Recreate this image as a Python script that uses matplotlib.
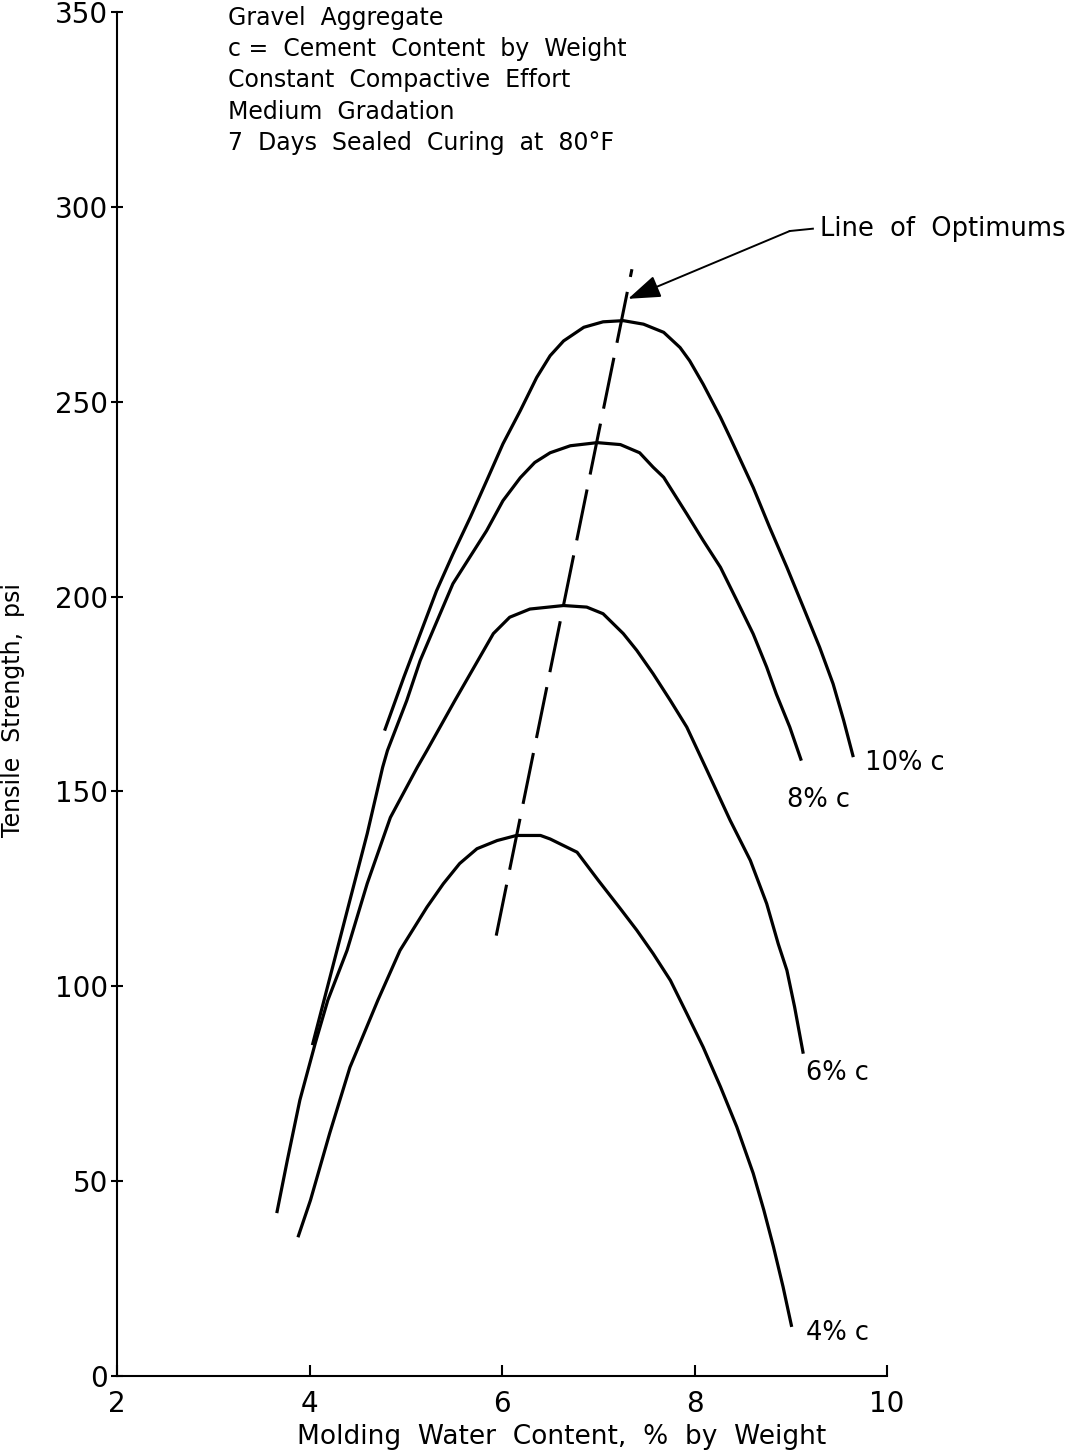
import matplotlib
matplotlib.use("Agg")
import matplotlib.pyplot as plt

# Tensile strength vs molding water content, gravel aggregate
plt.rcParams['font.family'] = ['DejaVu Sans']

water_10 = [4.78, 4.98, 5.15, 5.32, 5.49, 5.67, 5.84, 6.01, 6.19, 6.36, 6.50, 6.64, 6.85, 7.05,
            7.26, 7.47, 7.68, 7.85, 7.95, 8.09, 8.27, 8.37, 8.61, 8.78, 8.96, 9.13, 9.30, 9.44, 9.55, 9.65]
tens_10 = [165.6, 179.3, 190.4, 201.5, 210.9, 220.3, 229.7, 239.2, 247.7, 256.2, 261.8, 265.6, 269.1, 270.5,
           270.8, 269.9, 267.8, 263.9, 260.5, 254.5, 246.0, 240.8, 228.0, 217.8, 207.5, 197.3, 187.0, 177.6, 168.2, 158.8]

water_8 = [4.03, 4.24, 4.42, 4.60, 4.76, 4.81, 5.01, 5.15, 5.49, 5.84, 6.01, 6.19, 6.34, 6.50, 6.71,
           6.99, 7.23, 7.43, 7.57, 7.68, 7.92, 8.09, 8.27, 8.44, 8.61, 8.75, 8.85, 8.99, 9.11]
tens_8 = [84.9, 104.9, 122.1, 139.2, 156.2, 160.5, 173.3, 183.6, 203.3, 216.9, 224.6, 230.5, 234.4, 236.9, 238.7,
          239.5, 239.0, 236.9, 233.2, 230.6, 221.2, 214.4, 207.5, 199.0, 190.4, 181.9, 175.0, 166.5, 157.9]

water_6 = [3.66, 3.77, 3.90, 4.06, 4.19, 4.39, 4.60, 4.84, 5.12, 5.22, 5.51, 5.91, 6.08, 6.29, 6.64, 6.88,
           7.05, 7.26, 7.40, 7.57, 7.75, 7.92, 8.13, 8.37, 8.58, 8.75, 8.87, 8.96, 9.04, 9.13]
tens_6 = [41.8, 55.4, 70.8, 85.4, 96.4, 109.2, 126.4, 143.3, 156.2, 160.5, 173.3, 190.5, 194.7, 196.8, 197.7, 197.3,
          195.6, 190.5, 186.2, 180.2, 173.3, 166.5, 155.4, 142.6, 132.3, 121.2, 110.9, 104.1, 94.7, 82.7]

water_4 = [3.88, 4.01, 4.21, 4.42, 4.71, 4.94, 5.22, 5.39, 5.56, 5.74, 5.95, 6.15, 6.40, 6.50, 6.78, 7.00,
           7.23, 7.40, 7.57, 7.75, 7.92, 8.09, 8.27, 8.44, 8.61, 8.72, 8.82, 8.92, 9.01]
tens_4 = [35.6, 45.1, 62.3, 79.2, 96.4, 109.2, 120.3, 126.3, 131.5, 135.3, 137.4, 138.7, 138.7, 137.8, 134.4, 127.2,
          119.9, 114.4, 108.4, 101.5, 93.0, 84.4, 74.2, 63.9, 52.0, 42.6, 33.2, 22.9, 12.6]

# line of optimums (dashed)
opt_water = [5.94, 7.35]
opt_tens = [113.0, 284.0]

curve_labels = ['10% c', '8% c', '6% c', '4% c']
label_pos = [(9.77, 157.4), (8.96, 147.7), (9.16, 77.7), (9.16, 11.0)]

notes = ("Gravel  Aggregate\n"
         "c =  Cement  Content  by  Weight\n"
         "Constant  Compactive  Effort\n"
         "Medium  Gradation\n"
         "7  Days  Sealed  Curing  at  80\u00b0F")

xticks = [2, 4, 6, 8, 10]
yticks = [0, 50, 100, 150, 200, 250, 300, 350]

fig = plt.figure(figsize=(10.87, 14.55), dpi=100)
ax = fig.add_axes([117 / 1087, 79 / 1455, 770 / 1087, 1364 / 1455])

lw = 2.3
for xs, ys in [(water_10, tens_10), (water_8, tens_8), (water_6, tens_6), (water_4, tens_4)]:
    ax.plot(xs, ys, color='black', lw=lw, solid_capstyle='butt', solid_joinstyle='round')

ax.plot(opt_water, opt_tens, color='black', lw=2.2, dashes=(17, 5), clip_on=False)

for lab, (lx, ly) in zip(curve_labels, label_pos):
    ax.text(lx, ly, lab, fontsize=18.5, va='center', ha='left')

# annotation for line of optimums
arrow_tip = (7.31, 276.4)
elbow = (8.99, 293.8)
ax.annotate('', xy=arrow_tip, xytext=elbow,
            arrowprops=dict(arrowstyle='-|>,head_length=1.0,head_width=0.35',
                            color='black', lw=1.4, mutation_scale=20,
                            shrinkA=0, shrinkB=0))
ax.plot([elbow[0], 9.23], [elbow[1], 294.4], color='black', lw=1.4, clip_on=False)
ax.text(9.30, 294.2, 'Line  of  Optimums', fontsize=18.5, va='center', ha='left')

fig.text(228 / 1087, 1 - 6 / 1455, notes, fontsize=17, va='top', ha='left',
         linespacing=1.38)

ax.set_xlim(2, 10)
ax.set_ylim(0, 350)
ax.set_xticks(xticks)
ax.set_xticklabels([str(t) for t in xticks])
ax.set_yticks(yticks)
ax.set_yticklabels([str(t) for t in yticks])

ax.spines['top'].set_visible(False)
ax.spines['right'].set_visible(False)
ax.spines['left'].set_linewidth(1.5)
ax.spines['bottom'].set_linewidth(1.5)
ax.tick_params(axis='y', direction='inout', length=9, width=1.5, labelsize=20, pad=2)
ax.tick_params(axis='x', direction='in', length=8, width=1.5, labelsize=20, pad=10)

ax.set_xlabel('Molding  Water  Content,  %  by  Weight', fontsize=19)
ax.xaxis.set_label_coords((562 - 117) / 770, -48 / 1364)
ax.set_ylabel('Tensile  Strength,  psi', fontsize=17)
ax.yaxis.set_label_coords(-92 / 770, (1376 - 710) / 1364)

fig.savefig('out.png', dpi=100)
